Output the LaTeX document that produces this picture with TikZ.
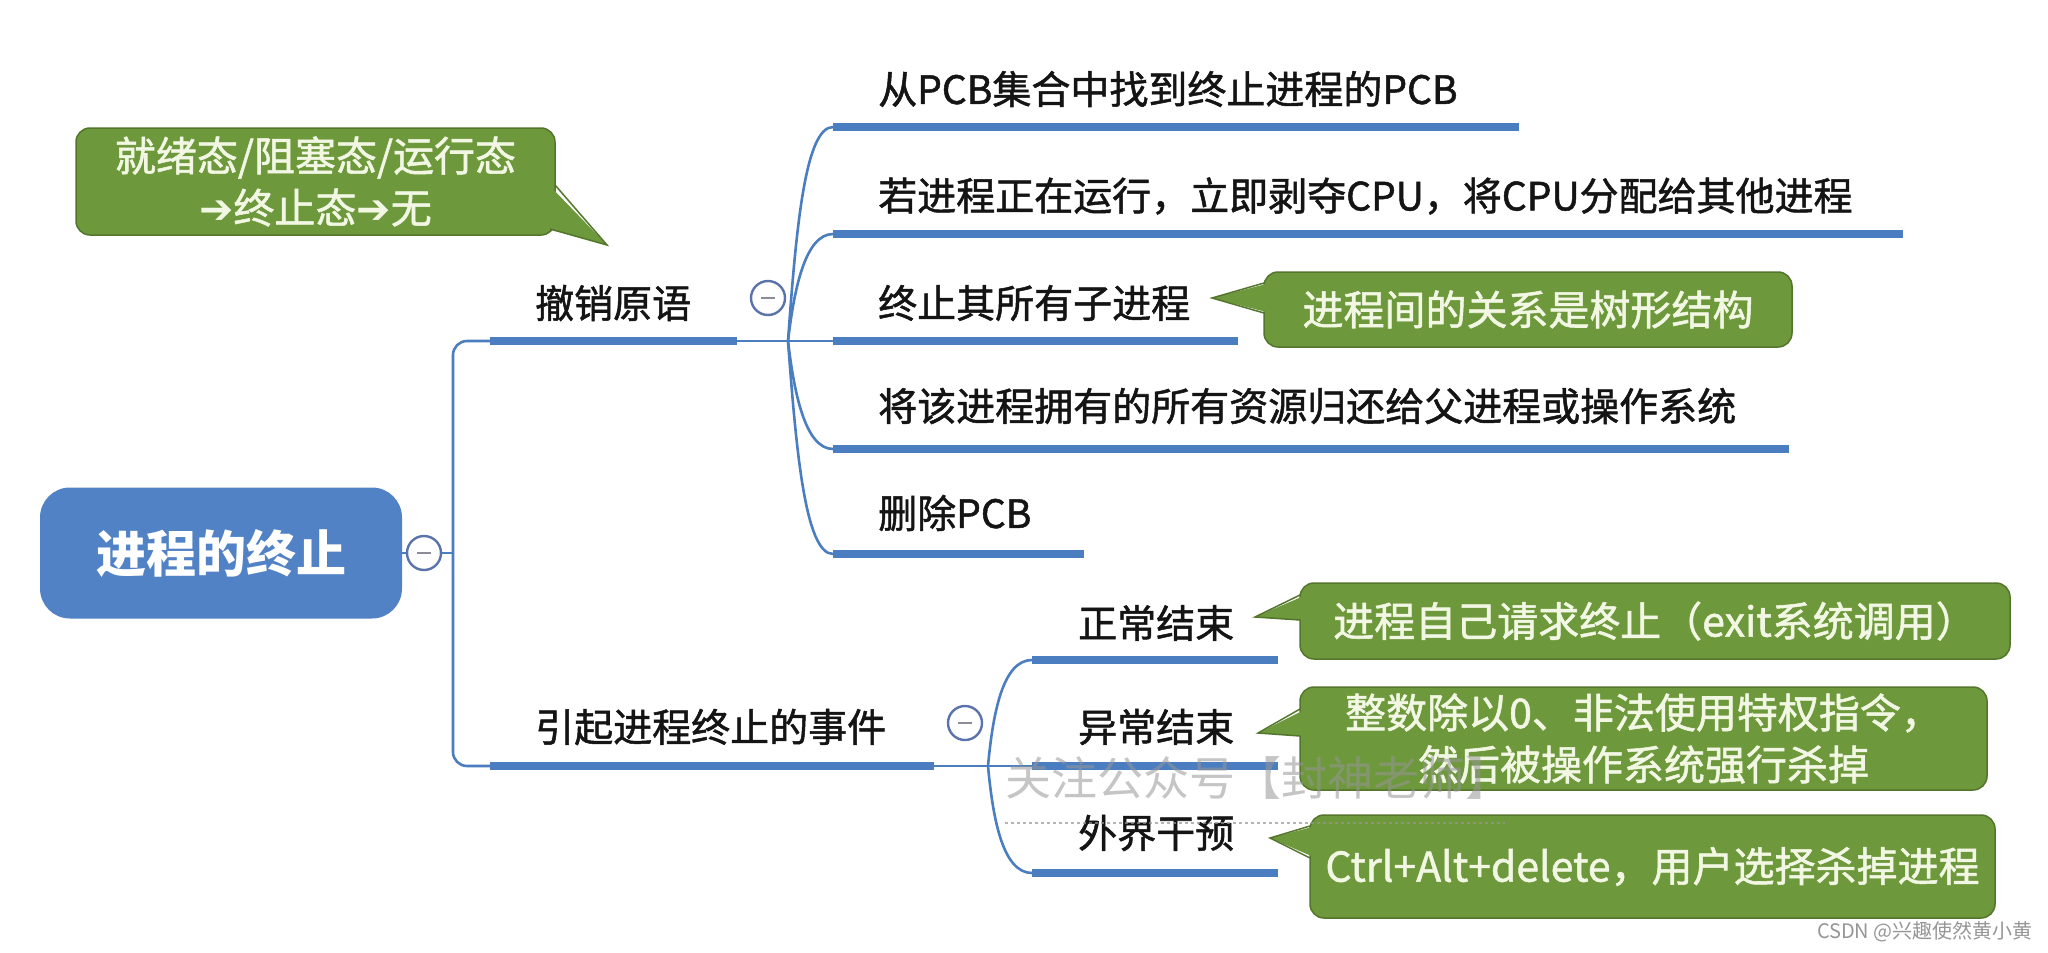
\documentclass[tikz,border=0pt]{standalone}
\usepackage{fontspec}
\setmainfont{Noto Sans CJK SC}
\newfontfamily\medfont{Noto Sans CJK SC}[FakeBold=1.3]
\newfontfamily\djv{DejaVu Sans}
\usetikzlibrary{calc}
\definecolor{lineblue}{RGB}{74,126,193}
\definecolor{rootblue}{RGB}{80,130,197}
\definecolor{cgreen}{RGB}{110,152,60}
\definecolor{cgreendk}{RGB}{84,118,44}
\definecolor{ctext}{RGB}{242,247,228}
\definecolor{foldc}{RGB}{90,115,170}
\definecolor{minusc}{RGB}{140,140,155}
\definecolor{txt}{RGB}{20,20,20}
\definecolor{wm}{RGB}{150,150,150}
\begin{document}
\begin{tikzpicture}[x=1pt,y=-1pt,
  lbl/.style={anchor=west, text=txt, inner sep=0pt, font=\medfont\fontsize{39}{44}\selectfont},
  bar/.style={line width=8pt, draw=lineblue},
  conn/.style={line width=2.6pt, draw=lineblue},
  fold/.style={circle, draw=foldc, line width=2.4pt, fill=white, minimum size=34pt, inner sep=0pt,
    path picture={\draw[minusc, line width=2.5pt] ([xshift=-7pt]path picture bounding box.center) -- ([xshift=7pt]path picture bounding box.center);}},
  callout/.style={rounded corners=14pt, fill=cgreen, draw=cgreendk, line width=1.5pt, text=ctext, font=\medfont\fontsize{41}{52}\selectfont, align=center, inner sep=0pt},
  pfill/.style={fill=cgreen},
  pedge/.style={draw=cgreendk, line width=1.5pt, line join=miter},
]
\useasboundingbox (0,0) rectangle (2048,953);
\fill[white] (0,0) rectangle (2048,953);

% root
\node[fill=rootblue, rounded corners=30pt, minimum width=362pt, minimum height=131pt, inner sep=0pt, text=white, font=\fontsize{50}{56}\selectfont\bfseries] (root) at (221,553) {进程的终止};
\node[fold] (f0) at (424,553) {};
\coordinate (t0) at (453,553);
\draw[conn] (root.east) -- (f0.west);
\draw[conn] (f0.east) -- (t0);

% branch coordinates
\coordinate (b1L) at (490,341);
\coordinate (b1R) at (737,341);
\coordinate (h1) at (788,341);
\coordinate (b2L) at (490,766);
\coordinate (b2R) at (934,766);
\coordinate (h2) at (988,766);

\draw[conn, rounded corners=14pt] (b1L) -| (t0) |- (b2L);

% branch 1
\draw[bar] (b1L) -- (b1R);
\node[lbl] (b1) at (535,303) {撤销原语};
\draw[conn] (b1R) -- (h1);
\node[fold] (f1) at (768,298) {};

% children of branch 1
\coordinate (c1L) at (833,127); \coordinate (c1R) at (1519,127);
\coordinate (c2L) at (833,234); \coordinate (c2R) at (1903,234);
\coordinate (c3L) at (833,341); \coordinate (c3R) at (1238,341);
\coordinate (c4L) at (833,449); \coordinate (c4R) at (1789,449);
\coordinate (c5L) at (833,554); \coordinate (c5R) at (1084,554);

\draw[conn] (h1) .. controls (796,230) and (805,127) .. (c1L);
\draw[conn] (h1) .. controls (794,290) and (805,234) .. (c2L);
\draw[conn] (h1) -- (c3L);
\draw[conn] (h1) .. controls (794,392) and (805,449) .. (c4L);
\draw[conn] (h1) .. controls (796,448) and (805,554) .. (c5L);

\draw[bar] (c1L) -- (c1R);
\draw[bar] (c2L) -- (c2R);
\draw[bar] (c3L) -- (c3R);
\draw[bar] (c4L) -- (c4R);
\draw[bar] (c5L) -- (c5R);

\node[lbl] (c1) at (878,89) {从PCB集合中找到终止进程的PCB};
\node[lbl] (c2) at (878,196) {若进程正在运行，立即剥夺CPU，将CPU分配给其他进程};
\node[lbl] (c3) at (878,303) {终止其所有子进程};
\node[lbl] (c4) at (878,406) {将该进程拥有的所有资源归还给父进程或操作系统};
\node[lbl] (c5) at (878,513) {删除PCB};

% branch 2
\draw[bar] (b2L) -- (b2R);
\node[lbl] (b2) at (535,727) {引起进程终止的事件};
\draw[conn] (b2R) -- (h2);
\node[fold] (f2) at (965,723) {};

\coordinate (d1L) at (1032,660); \coordinate (d1R) at (1278,660);
\coordinate (d2L) at (1032,766); \coordinate (d2R) at (1278,766);
\coordinate (d3L) at (1032,873); \coordinate (d3R) at (1278,873);

\draw[conn] (h2) .. controls (993,712) and (1003,660) .. (d1L);
\draw[conn] (h2) -- (d2L);
\draw[conn] (h2) .. controls (993,820) and (1003,873) .. (d3L);

\draw[bar] (d1L) -- (d1R);
\draw[bar] (d2L) -- (d2R);
\draw[bar] (d3L) -- (d3R);

\node[lbl] (d1) at (1078,623) {正常结束};
\node[lbl] (d2) at (1078,727) {异常结束};
\node[lbl] (d3) at (1078,833) {外界干预};

% callout 1 (top-left)
\node[callout, minimum width=479pt, minimum height=107pt] (co1) at (315.5,181.5) {就绪态/阻塞态/运行态\\{\djv\bfseries ➔}终止态{\djv\bfseries ➔}无};
\coordinate (p1) at (607,245);
\fill[pfill] (549,185) -- (p1) -- (545,228) -- cycle;
\draw[pedge] (555,185) -- (p1) -- (550,229);

% callout 2
\node[callout, minimum width=528pt, minimum height=75pt] (co2) at (1528,309.5) {进程间的关系是树形结构};
\coordinate (p2) at (1212,298);
\fill[pfill] (1270,283) -- (p2) -- (1270,313) -- cycle;
\draw[pedge] (1264,283) -- (p2) -- (1264,313);

% callout 3
\node[callout, minimum width=710pt, minimum height=76pt] (co3) at (1655,621) {进程自己请求终止（exit系统调用）};
\coordinate (p3) at (1255,617);
\fill[pfill] (1306,595) -- (p3) -- (1306,620) -- cycle;
\draw[pedge] (1300,595) -- (p3) -- (1300,620);

% callout 4
\node[callout, minimum width=687pt, minimum height=103pt] (co4) at (1643.5,738.5) {整数除以0、非法使用特权指令，\\然后被操作系统强行杀掉};
\coordinate (p4) at (1258,733);
\fill[pfill] (1306,709) -- (p4) -- (1306,736) -- cycle;
\draw[pedge] (1300,709) -- (p4) -- (1300,736);

% callout 5
\node[callout, minimum width=685pt, minimum height=103pt] (co5) at (1652.5,866.5) {Ctrl+Alt+delete，用户选择杀掉进程};
\coordinate (p5) at (1270,838);
\fill[pfill] (1316,826) -- (p5) -- (1316,858) -- cycle;
\draw[pedge] (1310,826) -- (p5) -- (1310,858);

% watermark (drawn over, translucent as in the screenshot)
\node[anchor=west, text=wm, opacity=0.55, inner sep=0pt, font=\fontsize{46}{50}\selectfont] (wm1) at (1005,778) {关注公众号【封神老师】};
\coordinate (wmA) at (1005,823);
\coordinate (wmB) at (1505,823);
\draw[wm, dashed, line width=1.2pt, opacity=0.7] (wmA) -- (wmB);

% csdn mark
\node[anchor=east, text=wm, inner sep=0pt, font=\fontsize{20}{22}\selectfont] (csdn) at (2033,932) {CSDN @兴趣使然黄小黄};
\end{tikzpicture}
\end{document}
